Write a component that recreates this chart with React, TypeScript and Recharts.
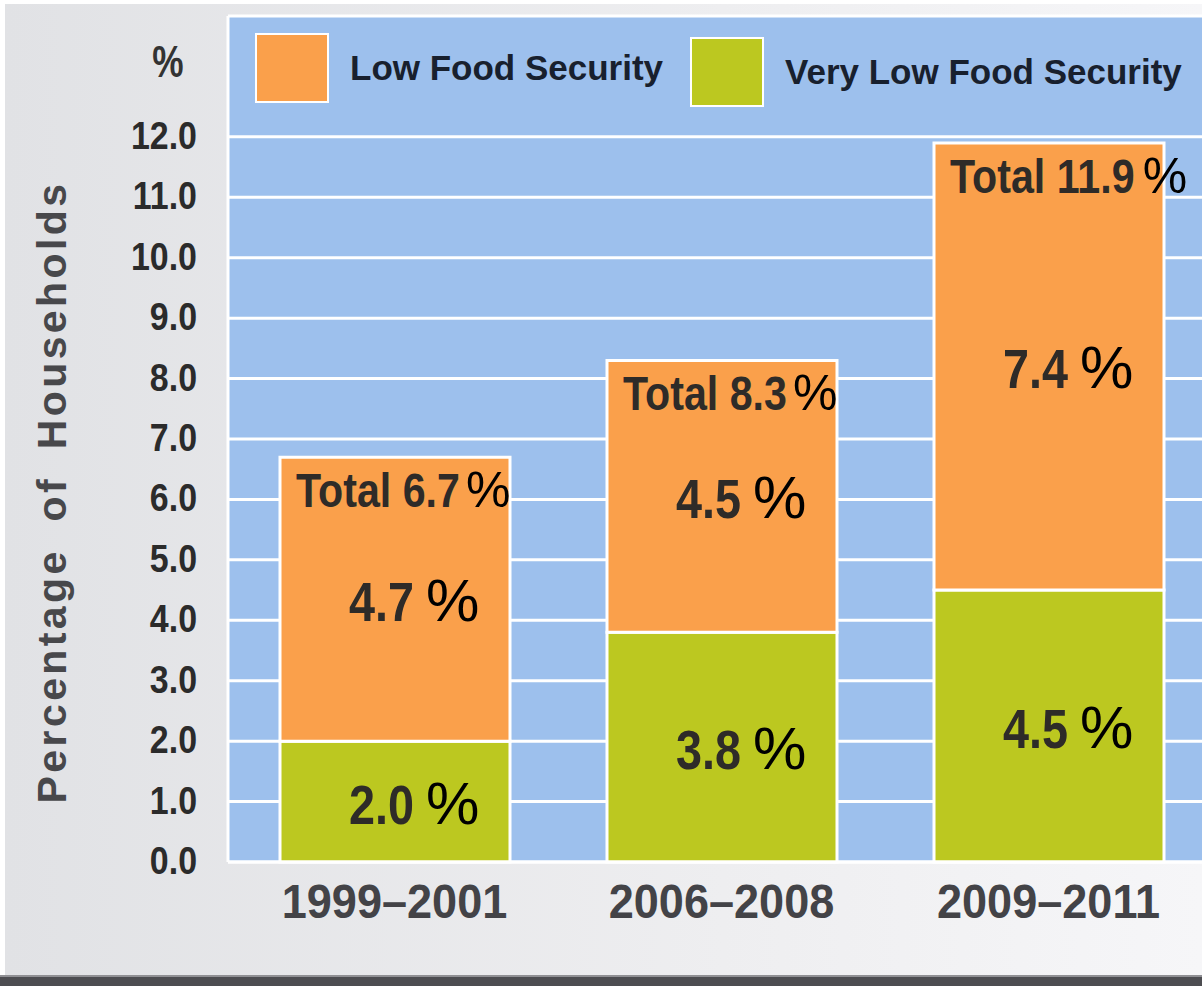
import React from "react";
import {
  BarChart,
  Bar,
  XAxis,
  YAxis,
  CartesianGrid,
  Legend,
  LabelList,
} from "recharts";

const periods = ["1999–2001", "2006–2008", "2009–2011"];
const lowFood = [4.7, 4.5, 7.4];
const veryLowFood = [2.0, 3.8, 4.5];
const yTicks = [0, 1, 2, 3, 4, 5, 6, 7, 8, 9, 10, 11, 12, 14];
const seriesNames = ["Low Food Security", "Very Low Food Security"];

const ORANGE = "#faa04b";
const GREEN = "#bcc820";
const BLUE = "#9dc0ed";
const PLAIN = '"Liberation Sans", Arial, Helvetica, sans-serif';

const rows = periods.map((p, i) => ({ period: p, low: lowFood[i], veryLow: veryLowFood[i] }));

// rough advance widths of Liberation Sans Bold, used to place the trailing "%"
const adv: Record<string, number> = { ".": 0.278, " ": 0.278, T: 0.611, o: 0.611, t: 0.333, a: 0.556, l: 0.278 };
const textW = (s: string, size: number) =>
  s.split("").reduce((w, c) => w + (adv[c] ?? 0.556), 0) * size;

// bold text squeezed horizontally, to stand in for a condensed face
function CondText({ x, y, size, scale, anchor = "start", fill = "#2e2b28", children }: any) {
  return (
    <text
      transform={`translate(${x},${y}) scale(${scale},1)`}
      textAnchor={anchor}
      fontFamily={PLAIN}
      fontWeight="bold"
      fontSize={size}
      fill={fill}
    >
      {children}
    </text>
  );
}

function NumWithPct({ x, y, text, size, scale, pctSize, gap }: any) {
  const w = textW(text, size) * scale;
  return (
    <g>
      <CondText x={x} y={y} size={size} scale={scale}>
        {text}
      </CondText>
      <text x={x + w + gap} y={y} fontFamily={PLAIN} fontSize={pctSize} fill="#000">
        %
      </text>
    </g>
  );
}

function SegmentLabel(props: any) {
  const { x = 0, y = 0, width = 0, height = 0, value } = props;
  const cx = Number(x) + Number(width) / 2;
  const mid = Number(y) + Number(height) / 2;
  return (
    <NumWithPct x={cx - 46} y={mid + 22} text={Number(value).toFixed(1)} size={55} scale={0.85} pctSize={60} gap={12} />
  );
}

function LowLabel(props: any) {
  const { x = 0, y = 0, width = 0, index = 0 } = props;
  const cx = Number(x) + Number(width) / 2;
  const total = lowFood[index] + veryLowFood[index];
  return (
    <g>
      <SegmentLabel {...props} />
      <NumWithPct x={cx - 99} y={Number(y) + 50} text={`Total ${total.toFixed(1)}`} size={49} scale={0.84} pctSize={50} gap={3} />
    </g>
  );
}

function YTick(props: any) {
  const { x, y, payload } = props;
  const v = Number(payload.value);
  if (v > 12) return null;
  return (
    <CondText x={x} y={y + 12} size={39} scale={0.87} anchor="end" fill="#2b2b2b">
      {v.toFixed(1)}
    </CondText>
  );
}

function XTick(props: any) {
  const { x, y, payload } = props;
  return (
    <CondText x={x} y={y + 35} size={49} scale={0.92} anchor="middle" fill="#434347">
      {payload.value}
    </CondText>
  );
}

function YTitle(props: any) {
  const vb = props.viewBox || { x: 0, y: 0, height: 0 };
  const cx = vb.x + 52;
  const cy = vb.y + vb.height / 2 + 53;
  return (
    <g>
      <text
        x={cx}
        y={cy}
        transform={`rotate(-90, ${cx}, ${cy})`}
        textAnchor="middle"
        dominantBaseline="central"
        fontFamily={PLAIN}
        fontWeight="bold"
        fontSize={41}
        letterSpacing={3.4}
        wordSpacing={12}
        fill="#48484b"
      >
        Percentage of Households
      </text>
      <CondText x={vb.x + 168} y={vb.y + 61} size={44} scale={0.8} anchor="middle" fill="#333">
        %
      </CondText>
    </g>
  );
}

function LegendBox({ payload }: any) {
  const items = seriesNames
    .map((n) => (payload || []).find((p: any) => p.value === n))
    .filter(Boolean);
  const lefts = [255, 690];
  const tops = [33, 37];
  return (
    <div style={{ position: "relative", width: 1202, height: 120 }}>
      {items.map((item: any, i: number) => (
        <div
          key={item.value}
          style={{ position: "absolute", left: lefts[i], top: tops[i], display: "flex", alignItems: "center" }}
        >
          <div
            style={{
              width: 70,
              height: 66,
              background: item.color,
              border: "2px solid #fff",
            }}
          />
          <span
            style={{
              marginLeft: 21,
              fontFamily: PLAIN,
              fontWeight: "bold",
              fontSize: 35,
              color: "#18202e",
              whiteSpace: "nowrap",
            }}
          >
            {item.value}
          </span>
        </div>
      ))}
    </div>
  );
}

export default function App() {
  return (
    <div
      style={{
        position: "absolute",
        left: 0,
        top: 0,
        width: 1202,
        height: 986,
        overflow: "hidden",
        background: "#fff",
      }}
    >
      <div
        style={{
          position: "absolute",
          left: 5,
          top: 4,
          right: 0,
          bottom: 0,
          background: "linear-gradient(to right, #e1e2e5, #eeeef0 60%, #f6f6f8)",
        }}
      />
      <div
        style={{
          position: "absolute",
          left: 0,
          top: 975,
          width: 1202,
          height: 11,
          background: "#4d4d51",
          borderTop: "2px solid #909094",
        }}
      />
      <div style={{ position: "absolute", left: 0, top: 0 }}>
        <BarChart
          width={1215}
          height={986}
          data={rows}
          margin={{ top: 16, right: 3, bottom: 0, left: 0 }}
          barSize={230}
        >
          <CartesianGrid vertical={false} stroke="#fff" strokeWidth={3} fill={BLUE} fillOpacity={1} />
          <XAxis
            dataKey="period"
            height={124}
            axisLine={{ stroke: "#fff", strokeWidth: 3 }}
            tickLine={false}
            tickSize={0}
            tickMargin={21}
            padding={{ left: 3, right: 0 }}
            tick={<XTick />}
            interval={0}
          />
          <YAxis
            width={228}
            domain={[0, 14]}
            ticks={yTicks}
            interval={0}
            axisLine={{ stroke: "#fff", strokeWidth: 3 }}
            tickLine={false}
            tickSize={0}
            tickMargin={31}
            tick={<YTick />}
            label={{ content: <YTitle /> }}
          />
          <Legend
            layout="horizontal"
            verticalAlign="middle"
            align="center"
            wrapperStyle={{ position: "absolute", top: 0, left: 0, width: 1202, height: 120 }}
            content={<LegendBox />}
          />
          <Bar
            dataKey="veryLow"
            name="Very Low Food Security"
            stackId="a"
            fill={GREEN}
            stroke="#fff"
            strokeWidth={3}
            isAnimationActive={false}
          >
            <LabelList dataKey="veryLow" content={<SegmentLabel />} />
          </Bar>
          <Bar
            dataKey="low"
            name="Low Food Security"
            stackId="a"
            fill={ORANGE}
            stroke="#fff"
            strokeWidth={3}
            isAnimationActive={false}
          >
            <LabelList dataKey="low" content={<LowLabel />} />
          </Bar>
        </BarChart>
      </div>
    </div>
  );
}
